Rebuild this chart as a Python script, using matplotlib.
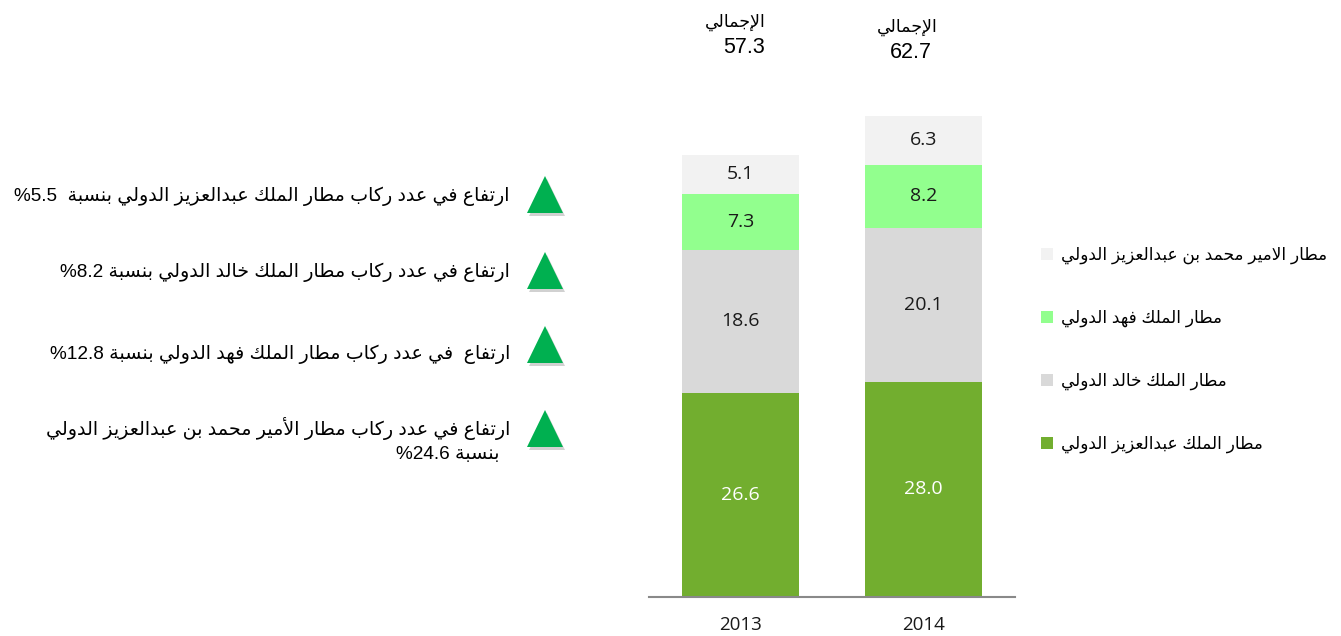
import re
import matplotlib
matplotlib.use("Agg")
import matplotlib.pyplot as plt
from matplotlib.patches import Polygon

# --- data ---
years = ['2013', '2014']
totals = [57.3, 62.7]
king_abdulaziz = [26.6, 28.0]
king_khalid = [18.6, 20.1]
king_fahd = [7.3, 8.2]
prince_mohammed = [5.1, 6.3]

airports = ['مطار الملك عبدالعزيز الدولي', 'مطار الملك خالد الدولي',
            'مطار الملك فهد الدولي', 'مطار الامير محمد بن عبدالعزيز الدولي']
total_label = 'الإجمالي'
notes = ['ارتفاع في عدد ركاب مطار الملك عبدالعزيز الدولي بنسبة  5.5%',
         'ارتفاع في عدد ركاب مطار الملك خالد الدولي بنسبة 8.2%',
         'ارتفاع  في عدد ركاب مطار الملك فهد الدولي بنسبة 12.8%',
         'ارتفاع في عدد ركاب مطار الأمير محمد بن عبدالعزيز الدولي\n  بنسبة 24.6%']

colors = ['#72AE2F', '#D9D9D9', '#92FF8E', '#F2F2F2']


# --- tiny arabic shaper (no arabic_reshaper available) ---
_counts = [1, 2, 2, 2, 2, 4, 2, 4, 2, 4, 4, 4, 4, 4, 2, 2, 2, 2, 4, 4, 4, 4, 4, 4, 4, 4,
           4, 4, 4, 4, 4, 4, 4, 2, 2, 4]
_codes = list(range(0x0621, 0x063B)) + list(range(0x0641, 0x064B))
FORMS = {}
c = 0xFE80
for code, n in zip(_codes, _counts):
    FORMS[chr(code)] = [chr(c + k) for k in range(n)]
    c += n
LAM_ALEF = {'آ': ['\uFEF5', '\uFEF6'], 'أ': ['\uFEF7', '\uFEF8'],
            'إ': ['\uFEF9', '\uFEFA'], 'ا': ['\uFEFB', '\uFEFC']}


def shape_line(s):
    items = []
    i = 0
    while i < len(s):
        ch = s[i]
        if ch == 'ل' and i + 1 < len(s) and s[i + 1] in LAM_ALEF:
            items.append(LAM_ALEF[s[i + 1]])
            i += 2
        elif ch in FORMS:
            items.append(FORMS[ch])
            i += 1
        else:
            items.append(ch)
            i += 1
    out = []
    for k, it in enumerate(items):
        if isinstance(it, str):
            out.append(it)
            continue
        prev = items[k - 1] if k > 0 else None
        nxt = items[k + 1] if k + 1 < len(items) else None
        jp = isinstance(prev, list) and len(prev) == 4 and len(it) >= 2
        jn = len(it) == 4 and isinstance(nxt, list) and len(nxt) >= 2
        if jp and jn:
            out.append(it[3])
        elif jp:
            out.append(it[1])
        elif jn:
            out.append(it[2])
        else:
            out.append(it[0])
    vis = ''.join(out)[::-1]
    return re.sub(r'[0-9.]+', lambda m: m.group(0)[::-1], vis)


def ar(text):
    return '\n'.join(shape_line(line) for line in text.split('\n'))


plt.rcParams['font.family'] = ['Liberation Sans', 'DejaVu Sans']

fig = plt.figure(figsize=(13.41, 6.36), dpi=100)
ax = fig.add_axes([649 / 1341, 39 / 636, 366 / 1341, 537.6 / 636])

x = [0, 1]
series = [king_abdulaziz, king_khalid, king_fahd, prince_mohammed]
bottom = [0, 0]
for vals, col, name in zip(series, colors, airports):
    ax.bar(x, vals, 0.634, bottom=bottom, color=col, label=ar(name))
    for xi, b, v in zip(x, bottom, vals):
        ax.text(xi, b + v / 2, f'{v:.1f}', ha='center', va='center', fontsize=14,
                family='Open Sans', color='white' if col == colors[0] else '#1a1a1a')
    bottom = [b + v for b, v in zip(bottom, vals)]

ax.set_xlim(-0.5, 1.5)
ax.set_ylim(0, 70)
ax.set_xticks(x)
ax.set_xticklabels(years, family='Open Sans', fontsize=13.5, color='#1a1a1a')
ax.tick_params(axis='x', length=0, pad=14)
ax.set_yticks([])
for sp in ['top', 'left', 'right']:
    ax.spines[sp].set_visible(False)
ax.spines['bottom'].set_color('#898989')
ax.spines['bottom'].set_linewidth(1.5)

# totals above the bars
for xi, t, dy in zip(x, totals, [0, 5]):
    ax.text(xi - 0.03 - 0.06 * xi, 1 + (57 - 20 - dy) / 537.6, ar(total_label),
            transform=ax.get_xaxis_transform(), ha='center', va='center', fontsize=12.5)
    ax.text(xi + 0.02 - 0.09 * xi, 1 + (57 - 45 - dy) / 537.6, f'{t:.1f}',
            transform=ax.get_xaxis_transform(), ha='center', va='center', fontsize=15.5)

h, l = ax.get_legend_handles_labels()
fig.legend(h[::-1], l[::-1], loc='center left', bbox_to_anchor=(1033 / 1341, 1 - 350 / 636),
           frameon=False, fontsize=12.2, labelspacing=2.7, handlelength=0.7,
           handleheight=0.7, handletextpad=0.45, borderpad=0)

# left annotations, pixel coords overlay
ov = fig.add_axes([0, 0, 1, 1])
ov.set_xlim(0, 1341)
ov.set_ylim(636, 0)
ov.axis('off')
tri_top = [176, 252, 326, 410]
text_y = [196, 272, 354, 440]
for top, ty, note in zip(tri_top, text_y, notes):
    xs = [527, 563, 545]
    ys = [top + 37, top + 37, top]
    ov.add_patch(Polygon(list(zip([v + 2 for v in xs], [v + 3 for v in ys])),
                         closed=True, color='#000000', alpha=0.18, lw=0))
    ov.add_patch(Polygon(list(zip(xs, ys)), closed=True, color='#00B050', lw=0))
    ov.text(510, ty, ar(note), ha='right', va='center', fontsize=13.7,
            multialignment='right', linespacing=1.5)

fig.savefig('out.png', dpi=100)
